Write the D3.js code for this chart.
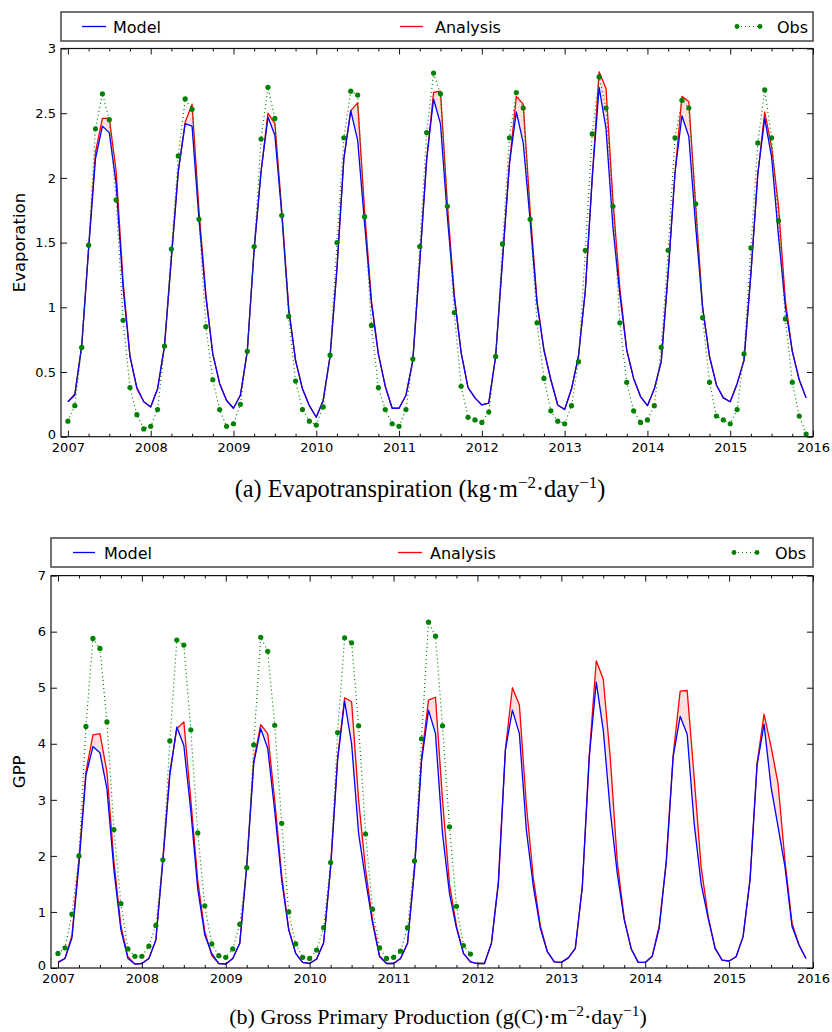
<!DOCTYPE html>
<html><head><meta charset="utf-8">
<script src="https://cdn.jsdelivr.net/npm/d3@7"></script>
<style>body{margin:0;background:#fff} svg{display:block}</style>
</head><body>
<svg id="c" width="832" height="1032"></svg>
<script>
// ---------- DATA ----------
const startYear = 2007;
const yearTicks = [2007,2008,2009,2010,2011,2012,2013,2014,2015,2016];
const seriesNames = ["Model","Analysis","Obs"];

// Evapotranspiration (kg m-2 day-1), monthly Jan 2007 - Dec 2015
const etObs = [
 0.12,0.24,0.69,1.48,2.38,2.65,2.45,1.83,0.90,0.38,0.17,0.06,
 0.08,0.21,0.70,1.45,2.17,2.61,2.53,1.68,0.85,0.44,0.21,0.08,
 0.10,0.25,0.66,1.47,2.30,2.70,2.46,1.71,0.93,0.43,0.21,0.12,
 0.09,0.23,0.63,1.50,2.31,2.67,2.64,1.70,0.86,0.38,0.21,0.10,
 0.08,0.21,0.60,1.47,2.35,2.81,2.65,1.78,0.96,0.39,0.15,0.13,
 0.11,0.19,0.62,1.49,2.31,2.66,2.54,1.68,0.88,0.45,0.20,0.12,
 0.10,0.24,0.58,1.44,2.34,2.78,2.54,1.78,0.88,0.42,0.20,0.11,
 0.13,0.24,0.69,1.44,2.31,2.60,2.54,1.80,0.92,0.42,0.16,0.13,
 0.10,0.21,0.64,1.46,2.27,2.68,2.31,1.67,0.91,0.42,0.16,0.02];
const etModel = [
 0.27,0.32,0.70,1.45,2.15,2.40,2.35,1.95,1.15,0.62,0.38,0.27,
 0.23,0.37,0.70,1.38,2.05,2.42,2.40,1.68,1.08,0.64,0.41,0.28,
 0.22,0.32,0.66,1.45,2.05,2.47,2.33,1.72,0.98,0.59,0.37,0.24,
 0.15,0.28,0.62,1.30,2.15,2.52,2.29,1.65,1.03,0.64,0.39,0.22,
 0.22,0.32,0.59,1.35,2.14,2.61,2.42,1.70,1.08,0.65,0.38,0.30,
 0.245,0.26,0.62,1.37,2.11,2.51,2.27,1.67,1.03,0.67,0.44,0.245,
 0.21,0.37,0.62,1.13,2.00,2.70,2.38,1.62,1.10,0.67,0.45,0.31,
 0.24,0.37,0.58,1.26,2.04,2.48,2.32,1.62,1.00,0.62,0.40,0.30,
 0.27,0.41,0.59,1.26,2.03,2.46,2.16,1.55,1.00,0.66,0.44,0.30];
const etAnalysis = [
 0.27,0.33,0.70,1.45,2.20,2.46,2.46,2.05,1.20,0.62,0.37,0.27,
 0.23,0.37,0.70,1.38,2.05,2.43,2.57,1.75,1.10,0.64,0.41,0.28,
 0.22,0.32,0.66,1.45,2.05,2.50,2.42,1.75,1.00,0.59,0.37,0.24,
 0.15,0.28,0.62,1.30,2.15,2.52,2.58,1.75,1.05,0.64,0.39,0.22,
 0.22,0.32,0.59,1.35,2.14,2.66,2.67,1.80,1.10,0.65,0.38,0.30,
 0.245,0.26,0.62,1.37,2.11,2.63,2.57,1.75,1.05,0.67,0.44,0.245,
 0.21,0.37,0.62,1.13,2.00,2.82,2.69,1.83,1.15,0.67,0.45,0.31,
 0.24,0.37,0.58,1.26,2.04,2.63,2.59,1.78,1.00,0.62,0.40,0.30,
 0.27,0.41,0.59,1.26,2.03,2.51,2.24,1.78,1.05,0.66,0.44,0.30];

// Gross Primary Production (g(C) m-2 day-1)
const gppObs = [
 0.26,0.36,0.96,2.00,4.31,5.88,5.70,4.39,2.47,1.15,0.34,0.21,
 0.21,0.39,0.76,1.93,4.05,5.85,5.76,4.25,2.41,1.11,0.43,0.22,
 0.19,0.34,0.78,1.79,3.98,5.90,5.65,4.33,2.58,1.00,0.43,0.19,
 0.17,0.32,0.72,1.88,4.20,5.89,5.80,4.32,2.39,1.05,0.36,0.17,
 0.19,0.30,0.72,1.91,4.09,6.17,5.92,4.32,2.52,1.10,0.40,0.25];
const gppModel = [
 0.10,0.17,0.54,1.85,3.44,3.95,3.84,3.20,1.75,0.68,0.17,0.07,
 0.08,0.17,0.50,1.90,3.44,4.30,3.97,2.80,1.40,0.59,0.26,0.08,
 0.07,0.17,0.44,1.80,3.65,4.27,3.92,2.80,1.57,0.68,0.26,0.10,
 0.08,0.16,0.45,1.80,3.71,4.76,4.00,2.40,1.57,0.80,0.20,0.08,
 0.08,0.17,0.44,1.75,3.68,4.60,4.18,2.40,1.33,0.71,0.26,0.11,
 0.08,0.08,0.44,1.51,3.89,4.60,4.18,2.46,1.45,0.71,0.29,0.11,
 0.10,0.18,0.35,1.45,3.77,5.10,4.24,2.80,1.69,0.86,0.34,0.10,
 0.10,0.21,0.71,1.87,3.77,4.49,4.17,2.58,1.50,0.89,0.35,0.14,
 0.125,0.20,0.56,1.57,3.62,4.35,3.23,2.52,1.80,0.74,0.41,0.17];
const gppAnalysis = [
 0.10,0.17,0.58,1.95,3.50,4.16,4.18,3.50,1.90,0.75,0.20,0.07,
 0.08,0.17,0.50,1.95,3.50,4.27,4.39,3.00,1.55,0.65,0.22,0.08,
 0.07,0.17,0.44,1.85,3.70,4.34,4.18,3.00,1.65,0.70,0.26,0.10,
 0.08,0.16,0.45,1.80,3.75,4.82,4.75,3.00,1.75,0.85,0.22,0.08,
 0.08,0.17,0.44,1.80,3.75,4.78,4.83,3.00,1.50,0.75,0.26,0.11,
 0.08,0.08,0.44,1.55,3.90,5.00,4.69,2.90,1.60,0.75,0.29,0.11,
 0.10,0.18,0.35,1.45,3.80,5.48,5.15,3.75,1.90,0.88,0.34,0.10,
 0.10,0.21,0.75,1.90,3.80,4.94,4.95,3.40,1.80,0.92,0.35,0.14,
 0.125,0.20,0.56,1.60,3.65,4.53,3.95,3.29,1.90,0.80,0.41,0.17];

const etTicks = [0,0.5,1,1.5,2,2.5,3];
const etTickLabels = ["0","0.5","1","1.5","2","2.5","3"];
const gppTicks = [0,1,2,3,4,5,6,7];
const gppTickLabels = ["0","1","2","3","4","5","6","7"];

// ---------- DRAWING ----------
const svg = d3.select("#c");
const FONT = "'DejaVu Sans', sans-serif";
const SERIF = "'Liberation Serif', 'DejaVu Serif', serif";
const COL = {model:"#0000ff", analysis:"#ff0000", obs:"#008000"};

function monthX(i){ return startYear + i/12; }

function drawPanel(cfg){
  const g = svg.append("g");
  const x = d3.scaleLinear().domain([startYear - 1/12, 2016]).range([cfg.left, cfg.right]);
  const y = d3.scaleLinear().domain([0, cfg.ticks[cfg.ticks.length-1]]).range([cfg.bottom, cfg.top]);

  const n = cfg.model.length;
  const idx = d3.range(n);
  const area = d3.area().x(i => x(monthX(i))).y0(i => y(cfg.model[i])).y1(i => y(cfg.analysis[i]));
  g.append("path").datum(idx).attr("d", area).attr("fill", "rgba(255,0,0,0.12)").attr("stroke","none");

  const line = arr => d3.line().defined(i => arr[i] != null).x(i => x(monthX(i))).y(i => y(arr[i]));
  g.append("path").datum(idx).attr("d", line(cfg.analysis)).attr("fill","none")
    .attr("stroke", COL.analysis).attr("stroke-width",1.3).attr("stroke-linejoin","round");
  g.append("path").datum(idx).attr("d", line(cfg.model)).attr("fill","none")
    .attr("stroke", COL.model).attr("stroke-width",1.3).attr("stroke-linejoin","round");

  const oIdx = d3.range(cfg.obs.length);
  g.append("path").datum(oIdx).attr("d", line(cfg.obs)).attr("fill","none")
    .attr("stroke", COL.obs).attr("stroke-width",1.2).attr("stroke-dasharray","1,3");
  g.selectAll("circle.o").data(oIdx).enter().append("circle")
    .attr("cx", i => x(monthX(i))).attr("cy", i => y(cfg.obs[i])).attr("r", 2.6)
    .attr("fill", COL.obs);

  g.append("rect").attr("x", cfg.left).attr("y", cfg.top)
    .attr("width", cfg.right - cfg.left).attr("height", cfg.bottom - cfg.top)
    .attr("fill","none").attr("stroke","#111").attr("stroke-width",1.2);

  const quarters = d3.range(0, 9*4+1).map(q => startYear + q/4).filter(v => Math.abs(v - Math.round(v)) > 1e-6);

  const ax = g.append("g").attr("transform", `translate(0,${cfg.bottom})`)
    .call(d3.axisBottom(x).tickValues(yearTicks).tickSize(-6).tickPadding(6).tickFormat(d3.format("d")));
  const axm = g.append("g").attr("transform", `translate(0,${cfg.bottom})`)
    .call(d3.axisBottom(x).tickValues(quarters).tickSize(-3).tickFormat(""));
  const axt = g.append("g").attr("transform", `translate(0,${cfg.top})`)
    .call(d3.axisTop(x).tickValues(yearTicks).tickSize(-6).tickFormat(""));
  const axtm = g.append("g").attr("transform", `translate(0,${cfg.top})`)
    .call(d3.axisTop(x).tickValues(quarters).tickSize(-3).tickFormat(""));
  const ay = g.append("g").attr("transform", `translate(${cfg.left},0)`)
    .call(d3.axisLeft(y).tickValues(cfg.ticks).tickSize(-6).tickPadding(5).tickFormat((d,i) => cfg.tickLabels[i]));
  const ayr = g.append("g").attr("transform", `translate(${cfg.right},0)`)
    .call(d3.axisRight(y).tickValues(cfg.ticks).tickSize(-6).tickFormat(""));
  [ax,axm,axt,axtm,ay,ayr].forEach(a => {
    a.select(".domain").remove();
    a.selectAll("line").attr("stroke","#111");
    a.selectAll("text").attr("font-family", FONT).attr("font-size", 13).attr("fill","#000");
  });
  // lift the zero label slightly so it clears the first year label
  ay.selectAll(".tick").filter(d => d === 0).select("text").attr("dy", "0.1em");

  g.append("text").attr("transform", `translate(${cfg.ylabelX},${(cfg.top+cfg.bottom)/2}) rotate(-90)`)
    .attr("text-anchor","middle").attr("font-family", FONT).attr("font-size", 16.5)
    .text(cfg.ylabel);

  const L = cfg.legend;
  const lg = g.append("g");
  lg.append("rect").attr("x", cfg.left).attr("y", L.top).attr("width", cfg.right - cfg.left)
    .attr("height", L.height).attr("fill","#fff").attr("stroke","#444").attr("stroke-width",1.5);
  const ly = L.top + L.height/2;
  lg.append("line").attr("x1", L.model[0]).attr("x2", L.model[1]).attr("y1", ly).attr("y2", ly)
    .attr("stroke", COL.model).attr("stroke-width",1.3);
  lg.append("line").attr("x1", L.analysis[0]).attr("x2", L.analysis[1]).attr("y1", ly).attr("y2", ly)
    .attr("stroke", COL.analysis).attr("stroke-width",1.3);
  lg.append("line").attr("x1", L.obs[0]).attr("x2", L.obs[1]).attr("y1", ly).attr("y2", ly)
    .attr("stroke", COL.obs).attr("stroke-width",1.2).attr("stroke-dasharray","1,3");
  [L.obs[0], L.obs[1]].forEach(cx => lg.append("circle").attr("cx", cx).attr("cy", ly).attr("r",2.4).attr("fill", COL.obs));
  const tx = [L.model[2], L.analysis[2], L.obs[2]];
  seriesNames.forEach((s,i) => lg.append("text").attr("x", tx[i]).attr("y", ly + 6)
    .attr("font-family", FONT).attr("font-size", 16).text(s));

  const cap = g.append("text").attr("x", cfg.caption.cx).attr("y", cfg.caption.y)
    .attr("text-anchor","middle").attr("font-family", SERIF).attr("font-size", 19);
  cfg.caption.parts.forEach(p => {
    const t = cap.append("tspan").text(p[0]);
    if (p[1]) t.attr("baseline-shift","super").attr("font-size", 13);
  });
  const w = cap.node().getComputedTextLength();
  const fs = 19 * cfg.caption.width / w;
  cap.attr("font-size", fs);
  cap.selectAll("tspan").filter(function(){ return this.getAttribute("baseline-shift"); }).attr("font-size", fs*0.7);
}

drawPanel({
  left:61, right:813, top:48.5, bottom:436.7,
  ticks: etTicks, tickLabels: etTickLabels,
  model: etModel, analysis: etAnalysis, obs: etObs,
  ylabel: "Evaporation", ylabelX: 25,
  legend: {top:12, height:29, model:[82,106,113], analysis:[400,423,435], obs:[737,760,777]},
  caption: {cx:420, y:497, width:370, parts:[["(a)  Evapotranspiration (kg·m"],["−2",1],["·day"],["−1",1],[")"]]}
});
drawPanel({
  left:51, right:813, top:575.6, bottom:968,
  ticks: gppTicks, tickLabels: gppTickLabels,
  model: gppModel, analysis: gppAnalysis, obs: gppObs,
  ylabel: "GPP", ylabelX: 25,
  legend: {top:538, height:29, model:[73,95,104], analysis:[398,422,430], obs:[734,757,775]},
  caption: {cx:438, y:1024, width:417, parts:[["(b)  Gross Primary Production (g(C)·m"],["−2",1],["·day"],["−1",1],[")"]]}
});
</script>
</body></html>
